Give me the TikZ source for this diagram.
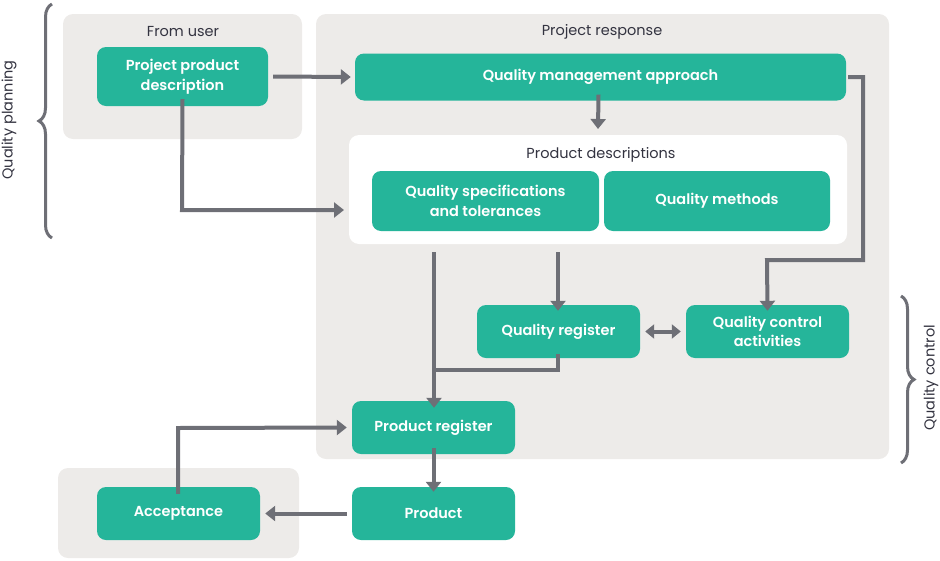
\documentclass[tikz,border=0pt]{standalone}
\usepackage{fontspec}
\setmainfont{Poppins}[BoldFont={Poppins SemiBold}]
\usetikzlibrary{arrows.meta,decorations.pathreplacing}
\definecolor{teal}{HTML}{25B59A}
\definecolor{greybg}{HTML}{EDEBE9}
\definecolor{arr}{HTML}{6E6F76}
\definecolor{txt}{HTML}{333340}
\tikzset{
  box/.style={fill=teal, rounded corners=9pt, text=white, font=\bfseries\fontsize{14.5}{19.5}\selectfont, align=center, inner sep=0pt, execute at begin node={\vspace*{3pt}}},
  panel/.style={fill=greybg, rounded corners=10pt},
  wpanel/.style={fill=white, rounded corners=10pt},
  title/.style={text=txt, font=\fontsize{14.5}{17}\selectfont},
  conn/.style={draw=arr, line width=4pt, -{Triangle[length=10pt,width=15pt]}},
  plain/.style={draw=arr, line width=4pt},
  brc/.style={draw=arr, line width=3pt, decorate, decoration={brace, amplitude=13pt}},
}
\begin{document}
\begin{tikzpicture}[x=1pt,y=-1pt]
\useasboundingbox (0,0) rectangle (940,560);
% panels
\fill[panel] (63,14) rectangle (302,139);
\fill[panel] (316,14) rectangle (889,459);
\fill[panel] (58,468) rectangle (299,558);
\fill[wpanel] (349,135) rectangle (847,244);
\node[title] (tuser) at (183,32) {From user};
\node[title] (tresp) at (602,32) {Project response};
\node[title] (tdesc) at (601,155) {Product descriptions};
% boxes
\node[box, minimum width=171pt, minimum height=59pt] (ppd) at (182.5,76.5) {Project product\\description};
\node[box, minimum width=491pt, minimum height=47pt] (qma) at (600.5,77) {Quality management approach};
\node[box, minimum width=227pt, minimum height=60pt] (qst) at (485.5,201) {Quality specifications\\and tolerances};
\node[box, minimum width=226pt, minimum height=60pt] (qme) at (717,201) {Quality methods};
\node[box, minimum width=163pt, minimum height=53pt] (qr) at (558.5,331.5) {Quality register};
\node[box, minimum width=163pt, minimum height=53pt] (qca) at (767.5,331.5) {Quality control\\activities};
\node[box, minimum width=163pt, minimum height=53pt] (pr) at (433.5,427.5) {Product register};
\node[box, minimum width=163pt, minimum height=53pt] (prod) at (433.5,513.5) {Product};
\node[box, minimum width=163pt, minimum height=53pt] (acc) at (178.5,513.5) {Acceptance};
% connectors
\coordinate (c1) at (182,210);
\coordinate (wp) at (349,210);
\draw[conn] ([xshift=5pt]ppd.east) -- ([xshift=-4pt]qma.west);
\draw[conn] ([yshift=7pt]ppd.south) -- (c1) -- ([xshift=-5pt]wp);
\draw[conn] ([yshift=6pt,xshift=-2pt]qma.south) -- (598,129);
\coordinate (r1) at (863,77);
\coordinate (r2) at (863,260);
\coordinate (r3) at (767,260);
\draw[conn] ([xshift=2pt]qma.east) -- (r1) -- (r2) -- (r3) -- ([yshift=-6pt]qca.north);
\coordinate (s1) at (434,252);
\draw[conn] (s1) -- ([yshift=-7pt,xshift=0.5pt]pr.north);
\coordinate (s2) at (558,252);
\draw[conn] (s2) -- ([yshift=-6pt,xshift=-0.5pt]qr.north);
\coordinate (j1) at (558,370);
\coordinate (j2) at (432,370);
\draw[plain] ([yshift=4pt,xshift=-0.5pt]qr.south) -- (j1) -- (j2);
\draw[draw=arr, line width=4pt, {Triangle[length=9pt,width=14pt]}-{Triangle[length=9pt,width=14pt]}] ([xshift=5pt]qr.east) -- ([xshift=-5pt]qca.west);
\draw[conn] ([yshift=6pt]pr.south) -- ([yshift=-5pt]prod.north);
\draw[conn] ([xshift=-5pt]prod.west) -- ([xshift=5pt]acc.west -| acc.east);
\coordinate (a1) at (178,428);
\draw[conn] ([yshift=-7pt,xshift=-0.5pt]acc.north) -- (a1) -- ([xshift=-5pt]pr.west);
% braces
\coordinate (b1) at (52,238);
\coordinate (b2) at (52,4);
\draw[brc] (b1) -- (b2);
\node[title, rotate=90] (qp) at (9,120) {Quality planning};
\coordinate (b3) at (901,296);
\coordinate (b4) at (901,463);
\draw[brc] (b3) -- (b4);
\node[title, rotate=90] (qc) at (931,378) {Quality control};
\end{tikzpicture}
\end{document}
